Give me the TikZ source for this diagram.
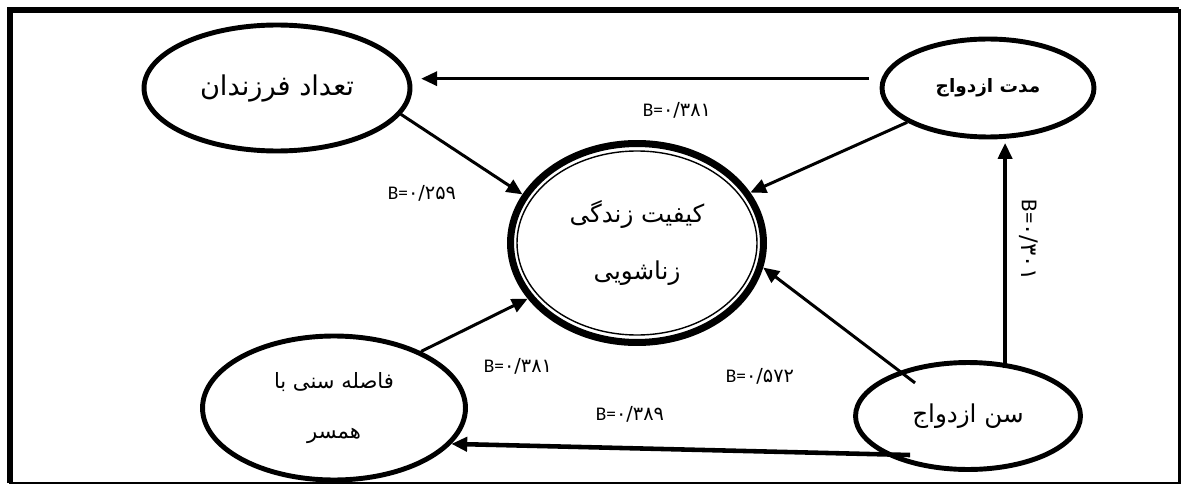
\documentclass[tikz,border=0pt]{standalone}
\usepackage{fontspec}
\usetikzlibrary{shapes.geometric,arrows.meta,calc}
\newfontfamily\fa[Script=Arabic]{DejaVu Sans}
\newfontfamily\carlito{Carlito}
\TeXXeTstate=1
\newcommand{\bval}[1]{{\carlito B=}{\fa #1}}

\begin{document}
\begin{tikzpicture}[
    x=0.02cm, y=-0.02cm,
    bub/.style={ellipse, draw, line width=2.8pt, inner sep=0pt, align=center},
    arr/.style={-{Triangle[length=9pt,width=8pt]}, line width=1.7pt},
    lbl/.style={font=\fontsize{11}{13}\selectfont, inner sep=1pt}
]
\useasboundingbox (0,0) rectangle (1182,486);

% frame
\draw[line width=1.7pt] (10,10) rectangle (1179,483);
\draw[line width=3.4pt] (10,483) |- (1179,10);

% variables
\node[bub, minimum width=5.32cm, minimum height=2.52cm, font=\fontsize{15.5}{18}\fa] (taedad) at (277,88) {\beginR تعداد فرزندان\endR};
\node[bub, minimum width=4.24cm, minimum height=1.96cm, font=\fontsize{10.5}{13}\fa\bfseries] (mdt) at (988,88) {\beginR مدت ازدواج\endR};
\node[bub, minimum width=5.06cm, minimum height=3.98cm, line width=4pt, font=\fontsize{14}{32}\fa] (kif) at (637,243) {\beginR کیفیت زندگی\endR\\\beginR زناشویی\endR};
\draw[line width=0.8pt] (kif.center) ellipse [x radius=120, y radius=92];
\node[bub, minimum width=5.26cm, minimum height=2.88cm, font=\fontsize{12}{28}\fa] (faseleh) at (334,408) {\beginR فاصله سنی با\endR\\\beginR همسر\endR};
\node[bub, minimum width=4.5cm, minimum height=2.14cm, font=\fontsize{14}{16}\fa] (sen) at (968,416) {\beginR سن ازدواج\endR};

% paths
\draw[arr, shorten <=7pt, shorten >=5pt] (mdt.175) -- (mdt.175 -| taedad.east);
\draw[arr] (taedad.-12) -- (kif.157.7);
\draw[arr] (mdt.203) -- (kif.24);
\draw[arr] ($(sen.center)!0.75!(sen.148)$) -- (kif.-11);
\draw[arr] (faseleh.33) -- (kif.207);
\draw[arr, line width=2pt, shorten <=-3pt, shorten >=2pt] (sen.55) -- (sen.55 |- mdt.south);
\draw[arr, line width=2.6pt] ($(sen.center)!0.86!(sen.214)$) -- (faseleh.-17);

% coefficients
\node[lbl] (b1) at (422,193) {\bval{۰/۲۵۹}};
\node[lbl] (b2) at (677,110) {\bval{۰/۳۸۱}};
\node[lbl] (b3) at (518,366) {\bval{۰/۳۸۱}};
\node[lbl] (b4) at (760,376) {\bval{۰/۵۷۲}};
\node[lbl] (b5) at (630,414) {\bval{۰/۳۸۹}};
\node[lbl, rotate=-90, font=\fontsize{13}{15}\selectfont] (b6) at (1029,240) {\bval{۰/۳۰۱}};
\end{tikzpicture}
\end{document}
